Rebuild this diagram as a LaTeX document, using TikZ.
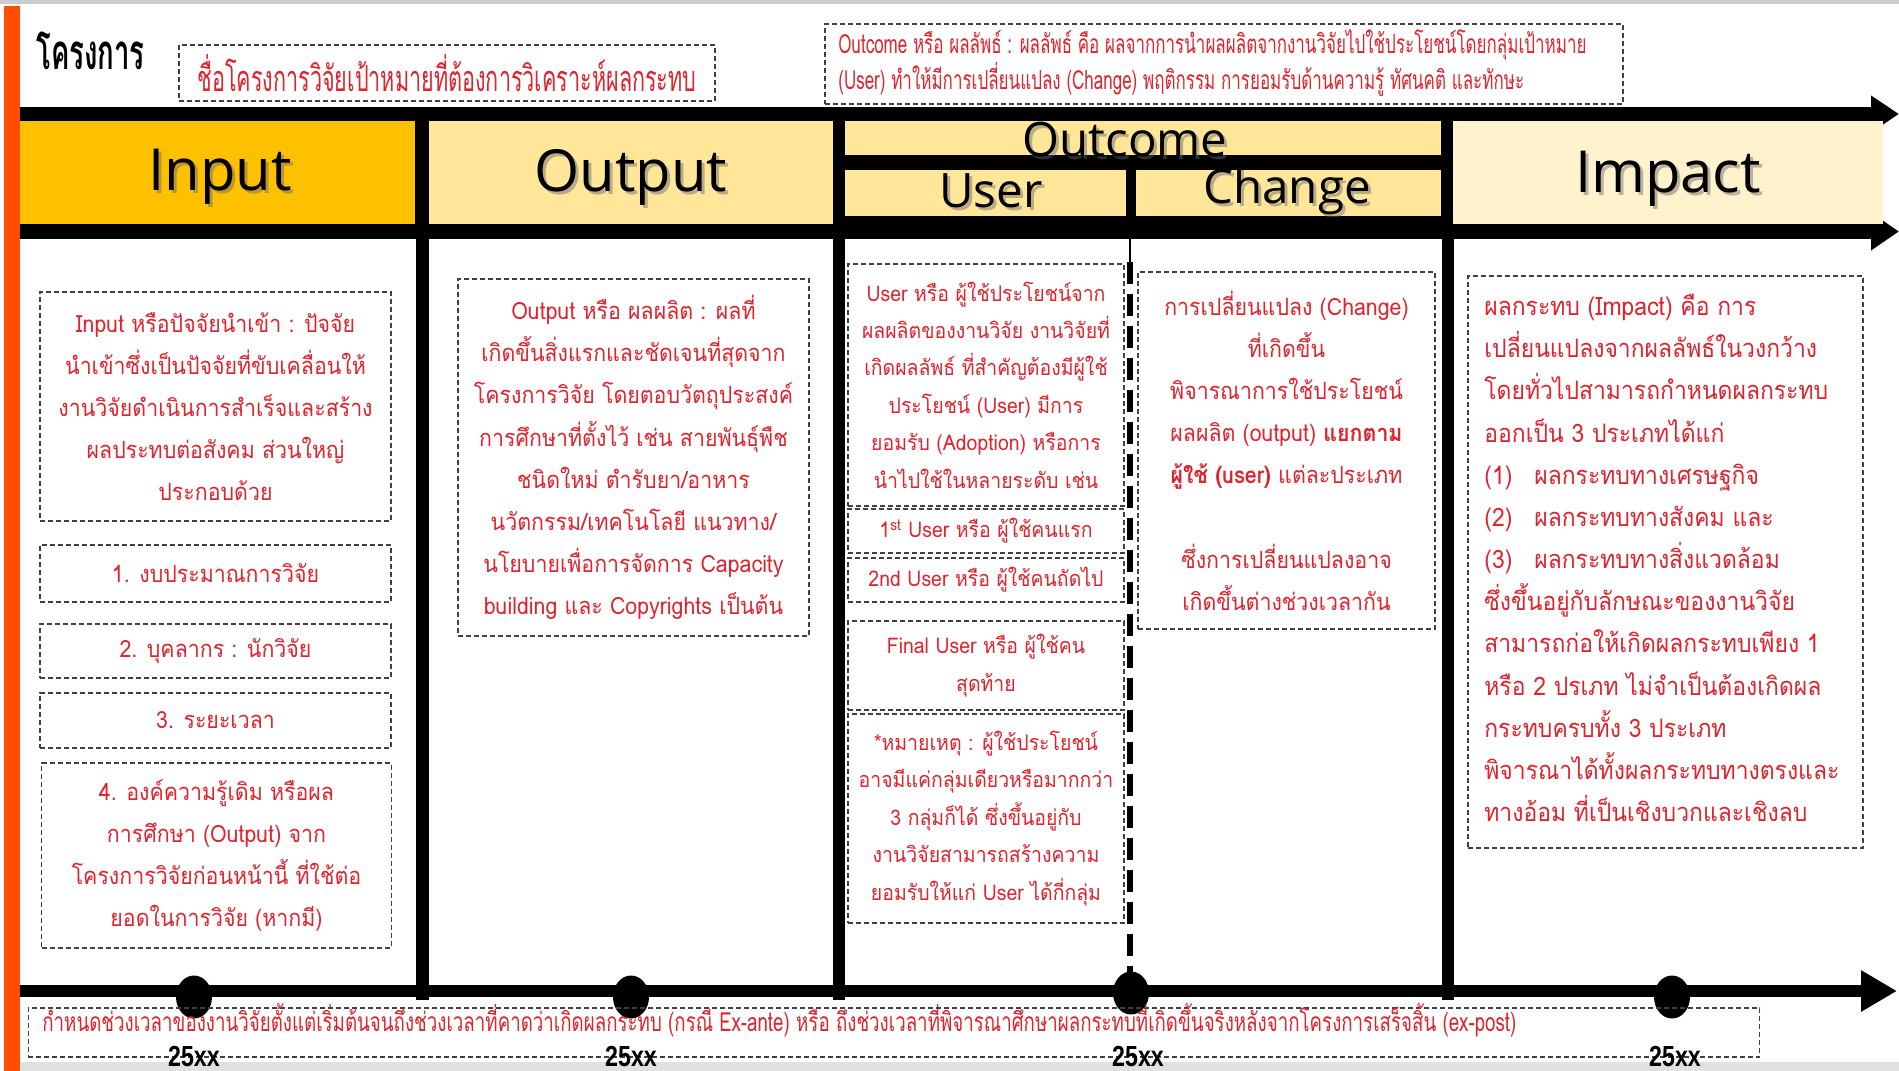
\documentclass[tikz,border=0pt]{standalone}
\usepackage{fontspec}
\usetikzlibrary{shapes.geometric,arrows.meta}
\newfontfamily\thaiN[Script=Thai,FakeStretch=0.9]{Loma}
\newfontfamily\thaiC[Script=Thai,FakeStretch=0.6]{Loma}
\newfontfamily\thaiT[Script=Thai,FakeStretch=0.56]{Loma}
\newfontfamily\thaiO[Script=Thai,FakeStretch=0.645]{Loma}
\newfontfamily\thaiB[Script=Thai,FakeStretch=0.71]{Loma}
\newfontfamily\hdrF{Open Sans}
\newfontfamily\numF[FakeStretch=0.8]{Liberation Sans}
\definecolor{tred}{RGB}{222,36,46}
\definecolor{inputc}{HTML}{FFC000}
\definecolor{outc}{HTML}{FFE699}
\definecolor{impc}{HTML}{FFF2CC}
\definecolor{orbar}{RGB}{255,78,0}
\tikzset{
 dbox/.style={draw=black!75, line width=0.7pt, dash pattern=on 0.1cm off 0.06cm, inner sep=0pt},
 rtxt/.style={text=tred, align=center, inner sep=0pt, font=\thaiN\fontsize{13.5}{24}\selectfont},
 utxt/.style={text=tred, align=center, inner sep=0pt, font=\thaiN\fontsize{12.3}{21.3}\selectfont},
 hbox/.style={inner sep=0pt, draw=none},
 hbig/.style={font=\hdrF\fontsize{33}{36}\selectfont, inner sep=0pt},
 hsmall/.style={font=\hdrF\fontsize{27}{30}\selectfont, inner sep=0pt},
 shadowt/.style={text=black!60, opacity=0.45},
 dotn/.style={ellipse, fill=black, inner sep=0pt, minimum width=0.72cm, minimum height=0.86cm},
 yr/.style={font=\numF\bfseries\fontsize{16.5}{17}\selectfont, inner sep=0pt, text height=12pt, text depth=0pt},
}
\begin{document}
\begin{tikzpicture}[x=0.02cm, y=-0.02cm]
\useasboundingbox (0,0) rectangle (1899,1071);
\fill[white] (0,0) rectangle (1899,1071);
\fill[black!20] (0,0) rectangle (1899,4);
\fill[black!12] (20,1062) rectangle (1899,1071);
\fill[orbar] (4,6) rectangle (20,1071);

% title
\node[anchor=west, inner sep=0pt, font=\thaiT\bfseries\fontsize{28}{30}\selectfont] (title) at (36,51) {โครงการ};
\node[dbox, text=tred, minimum width=10.72cm, minimum height=1.12cm, font=\thaiC\fontsize{20.5}{24}\selectfont] (tbox) at (447,73) {ชื่อโครงการวิจัยเป้าหมายที่ต้องการวิเคราะห์ผลกระทบ};

% outcome definition
\node[dbox, minimum width=15.96cm, minimum height=1.6cm] (obox) at (1224,64) {};
\node[anchor=west, align=left, inner sep=0pt, text=tred, font=\thaiO\fontsize{15}{18.7}\selectfont] (otext) at (838,63) {Outcome หรือ ผลลัพธ์ : ผลลัพธ์ คือ ผลจากการนำผลผลิตจากงานวิจัยไปใช้ประโยชน์โดยกลุ่มเป้าหมาย\\(User) ทำให้มีการเปลี่ยนแปลง (Change) พฤติกรรม การยอมรับด้านความรู้ ทัศนคติ และทักษะ};

% header band
\fill[black] (20,107) rectangle (1453,239);
\coordinate (ta0) at (1453,114);
\coordinate (ta1) at (1899,114);
\coordinate (tb0) at (1453,231.5);
\coordinate (tb1) at (1899,231.5);
\draw[line width=0.28cm, -{Triangle[length=0.56cm,width=0.7cm]}] (ta0) -- (ta1);
\draw[line width=0.3cm, -{Triangle[length=0.56cm,width=0.72cm]}] (tb0) -- (tb1);

\node[hbox, fill=inputc, minimum width=7.9cm, minimum height=2.06cm] (hin) at (217.5,172.5) {};
\node[hbox, fill=outc, minimum width=8.08cm, minimum height=2.06cm] (hout) at (631,172.5) {};
\node[hbox, fill=outc, minimum width=11.92cm, minimum height=0.68cm] (hoc) at (1143,138) {};
\node[hbox, fill=outc, minimum width=5.62cm, minimum height=0.92cm] (huser) at (985.5,193) {};
\node[hbox, fill=outc, minimum width=6.1cm, minimum height=0.92cm] (hchg) at (1288.5,193) {};
\node[hbox, fill=impc, minimum width=8.6cm, minimum height=2.06cm] (himp) at (1668,172.5) {};

\node[hbig, shadowt] (sin) at (223,180) {Input};
\node[hbig] (tin) at (220,177) {Input};
\node[hbig, shadowt] (sout) at (634,180) {Output};
\node[hbig] (tout) at (631,177) {Output};
\node[hsmall, shadowt] (soc) at (1128,143) {Outcome};
\node[hsmall] (toc) at (1125,140) {Outcome};
\node[hsmall, shadowt] (suser) at (994,194) {User};
\node[hsmall] (tuser) at (991,191) {User};
\node[hsmall, shadowt] (schg) at (1290,194) {Change};
\node[hsmall] (tchg) at (1287,191) {Change};
\node[hbig, shadowt] (simp) at (1671,182) {Impact};
\node[hbig] (timp) at (1668,179) {Impact};

% vertical dividers
\fill[black] (416,239) rectangle (429,1000);
\fill[black] (833,239) rectangle (845,1000);
\fill[black] (1442,239) rectangle (1454,1000);
\coordinate (dv0) at (1130,239);
\coordinate (dv1) at (1130,262);
\coordinate (dv2) at (1130,990);
\draw[line width=1.2pt] (dv0) -- (dv1);
\draw[line width=0.12cm, dash pattern=on 0.44cm off 0.2cm] (dv1) -- (dv2);

% input column
\node[dbox, rtxt, minimum width=7.02cm, minimum height=4.58cm] (in1) at (215.5,406.5) {Input หรือปัจจัยนำเข้า : ปัจจัย\\นำเข้าซึ่งเป็นปัจจัยที่ขับเคลื่อนให้\\งานวิจัยดำเนินการสำเร็จและสร้าง\\ผลประทบต่อสังคม ส่วนใหญ่\\ประกอบด้วย};
\node[dbox, rtxt, minimum width=7.02cm, minimum height=1.14cm] (in2) at (215.5,573.5) {1. งบประมาณการวิจัย};
\node[dbox, rtxt, minimum width=7.02cm, minimum height=1.08cm] (in3) at (215.5,651) {2. บุคลากร : นักวิจัย};
\node[dbox, rtxt, minimum width=7.02cm, minimum height=1.1cm] (in4) at (215.5,720.5) {3. ระยะเวลา};
\node[dbox, rtxt, minimum width=7.0cm, minimum height=3.7cm] (in5) at (216.5,855.5) {4. องค์ความรู้เดิม หรือผล\\การศึกษา (Output) จาก\\โครงการวิจัยก่อนหน้านี้ ที่ใช้ต่อ\\ยอดในการวิจัย (หากมี)};

% output column
\node[dbox, rtxt, minimum width=7.02cm, minimum height=7.14cm] (out1) at (633.5,457.5) {Output หรือ ผลผลิต : ผลที่\\เกิดขึ้นสิ่งแรกและชัดเจนที่สุดจาก\\โครงการวิจัย โดยตอบวัตถุประสงค์\\การศึกษาที่ตั้งไว้ เช่น สายพันธุ์พืช\\ชนิดใหม่ ตำรับยา/อาหาร\\นวัตกรรม/เทคโนโลยี แนวทาง/\\นโยบายเพื่อการจัดการ Capacity\\building และ Copyrights เป็นต้น};

% user column
\node[dbox, utxt, minimum width=5.52cm, minimum height=4.84cm] (us1) at (986,385) {User หรือ ผู้ใช้ประโยชน์จาก\\ผลผลิตของงานวิจัย งานวิจัยที่\\เกิดผลลัพธ์ ที่สำคัญต้องมีผู้ใช้\\ประโยชน์ (User) มีการ\\ยอมรับ (Adoption) หรือการ\\นำไปใช้ในหลายระดับ เช่น};
\node[dbox, utxt, minimum width=5.52cm, minimum height=0.88cm] (us2) at (986,531) {1\textsuperscript{st} User หรือ ผู้ใช้คนแรก};
\node[dbox, utxt, minimum width=5.52cm, minimum height=0.88cm] (us3) at (986,580) {2nd User หรือ ผู้ใช้คนถัดไป};
\node[dbox, utxt, minimum width=5.52cm, minimum height=1.78cm] (us4) at (986,665.5) {Final User หรือ ผู้ใช้คน\\สุดท้าย};
\node[dbox, utxt, minimum width=5.52cm, minimum height=4.18cm] (us5) at (986,818.5) {*หมายเหตุ : ผู้ใช้ประโยชน์\\อาจมีแค่กลุ่มเดียวหรือมากกว่า\\3 กลุ่มก็ได้ ซึ่งขึ้นอยู่กับ\\งานวิจัยสามารถสร้างความ\\ยอมรับให้แก่ User ได้กี่กลุ่ม};

% change column
\node[dbox, rtxt, minimum width=5.94cm, minimum height=7.14cm] (chg1) at (1286.5,450.5) {การเปลี่ยนแปลง (Change)\\ที่เกิดขึ้น\\พิจารณาการใช้ประโยชน์\\ผลผลิต (output) \textbf{แยกตาม}\\\textbf{ผู้ใช้ (user)} แต่ละประเภท\\~\\ซึ่งการเปลี่ยนแปลงอาจ\\เกิดขึ้นต่างช่วงเวลากัน};

% impact column
\node[dbox, minimum width=7.9cm, minimum height=11.44cm] (imp1) at (1665.5,562) {};
\node[anchor=west, align=left, inner sep=0pt, text=tred, font=\thaiN\fontsize{14.5}{24}\selectfont] (imptext) at (1484,558) {ผลกระทบ (Impact) คือ การ\\เปลี่ยนแปลงจากผลลัพธ์ในวงกว้าง\\โดยทั่วไปสามารถกำหนดผลกระทบ\\ออกเป็น 3 ประเภทได้แก่\\\makebox[1.0cm][l]{(1)}ผลกระทบทางเศรษฐกิจ\\\makebox[1.0cm][l]{(2)}ผลกระทบทางสังคม และ\\\makebox[1.0cm][l]{(3)}ผลกระทบทางสิ่งแวดล้อม\\ซึ่งขึ้นอยู่กับลักษณะของงานวิจัย\\สามารถก่อให้เกิดผลกระทบเพียง 1\\หรือ 2 ปรเภท ไม่จำเป็นต้องเกิดผล\\กระทบครบทั้ง 3 ประเภท\\พิจารณาได้ทั้งผลกระทบทางตรงและ\\ทางอ้อม ที่เป็นเชิงบวกและเชิงลบ};

% time axis
\coordinate (ax0) at (20,991);
\coordinate (ax1) at (1897,991);
\draw[line width=0.24cm, -{Triangle[length=0.72cm,width=0.78cm]}] (ax0) -- (ax1);
\node[dotn] (d1) at (194,997) {};
\node[dotn] (d2) at (631,997) {};
\node[dotn] (d3) at (1131,993) {};
\node[dotn] (d4) at (1672,997) {};

\node[dbox, minimum width=34.64cm, minimum height=0.98cm] (bbox) at (894,1032.5) {};
\node[anchor=west, inner sep=0pt, text=tred, text height=9pt, text depth=2pt, font=\thaiB\fontsize{15}{17}\selectfont] (btext) at (42,1025) {กำหนดช่วงเวลาของงานวิจัยตั้งแต่เริ่มต้นจนถึงช่วงเวลาที่คาดว่าเกิดผลกระทบ (กรณี Ex-ante) หรือ ถึงช่วงเวลาที่พิจารณาศึกษาผลกระทบที่เกิดขึ้นจริงหลังจากโครงการเสร็จสิ้น (ex-post)};

\node[yr] (y1) at (194,1056) {25xx};
\node[yr] (y2) at (631,1056) {25xx};
\node[yr] (y3) at (1138,1056) {25xx};
\node[yr] (y4) at (1675,1056) {25xx};
\end{tikzpicture}
\end{document}
